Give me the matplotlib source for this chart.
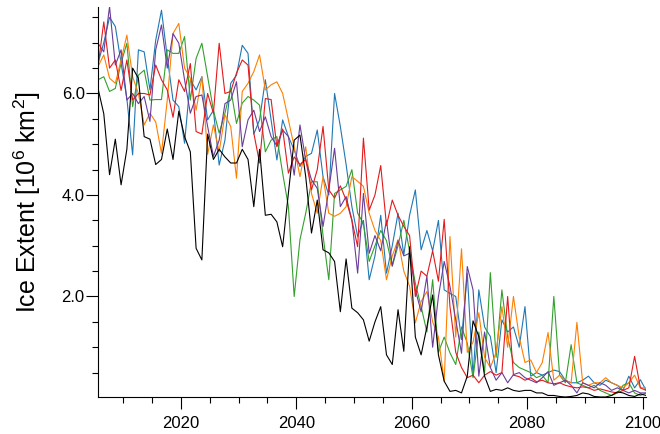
import numpy as np
import matplotlib
matplotlib.use("Agg")
import matplotlib.pyplot as plt
from matplotlib.ticker import MultipleLocator, FormatStrFormatter

plt.rcParams['font.family'] = ['Liberation Sans', 'DejaVu Sans']
plt.rcParams['mathtext.fontset'] = 'custom'
plt.rcParams['mathtext.rm'] = 'Liberation Sans'
plt.rcParams['mathtext.it'] = 'Liberation Sans'

# time axis (annual means, 96 years)
years = np.arange(96) + 2005.625

black = [6.1, 5.6, 4.4, 5.1, 4.2, 4.9, 6.5, 6.3, 5.15, 5.1,
         4.6, 4.7, 5.3, 4.7, 5.65, 5.15, 4.85, 2.95, 2.72, 5.2,
         4.7, 4.9, 4.75, 4.63, 4.63, 4.9, 4.7, 3.77, 4.9, 3.6,
         3.62, 3.47, 2.98, 4.04, 5.08, 5.18, 4.36, 3.25, 3.9, 2.92,
         2.86, 2.69, 1.7, 2.74, 1.77, 1.68, 1.54, 1.12, 1.5, 1.8,
         0.85, 0.66, 1.74, 0.92, 2.98, 1.2, 0.85, 1.4, 2.03, 0.85,
         0.33, 0.13, 0.15, 0.1, 0.43, 1.52, 1.21, 0.43, 0.13, 0.17,
         0.15, 0.2, 0.15, 0.13, 0.15, 0.15, 0.1, 0.1, 0.05, 0.05,
         0.03, 0.02, 0.03, 0.05, 0.1, 0.08, 0.03, 0.02, 0.02, 0.05,
         0.12, 0.1, 0.05, 0.03, 0.08, 0.05]

red = [6.53, 7.41, 6.5, 6.66, 6.06, 6.66, 5.87, 6.0, 6.0, 5.97,
       6.56, 6.27, 6.07, 5.53, 6.27, 6.04, 6.59, 5.25, 5.2, 6.0,
       5.61, 6.99, 6.0, 6.04, 6.4, 6.66, 6.56, 5.22, 4.63, 5.9,
       5.88, 4.95, 5.3, 4.43, 4.75, 4.6, 4.7, 4.1, 4.5, 5.35,
       4.1, 3.94, 4.18, 3.9, 3.5, 2.98, 5.12, 3.7, 4.0, 4.58,
       3.4, 3.9, 3.6, 3.38, 3.2, 2.0, 2.5, 2.4, 2.9, 2.3,
       3.52, 1.8, 0.9, 0.6, 0.4, 0.45, 0.3, 0.45, 0.52, 0.45,
       0.5, 2.0, 0.45, 0.42, 0.35, 0.4, 0.32, 0.35, 0.3, 0.28,
       0.3, 0.25, 0.22, 0.2, 0.22, 0.2, 0.15, 0.18, 0.15, 0.12,
       0.1, 0.15, 0.2, 0.82, 0.2, 0.15]

orange = [6.53, 6.76, 6.3, 6.2, 6.66, 7.15, 6.33, 6.0, 5.38, 5.61,
          5.44, 4.82, 5.87, 7.18, 7.38, 6.5, 6.3, 5.67, 6.33, 4.8,
          5.38, 4.85, 5.58, 5.35, 4.33, 6.04, 6.2, 6.43, 6.76, 6.07,
          6.17, 6.23, 6.0, 5.48, 4.95, 4.36, 4.95, 4.03, 3.64, 4.36,
          3.64, 3.58, 3.64, 3.77, 4.36, 4.27, 4.17, 3.64, 3.3, 3.1,
          2.33, 2.8, 3.12, 2.5, 2.2, 1.48, 1.9, 2.1, 1.5, 1.2,
          0.33, 3.18, 1.2, 2.94, 0.9, 1.1, 1.68, 0.8, 0.6, 0.9,
          1.8, 1.0, 2.0, 1.2, 0.7, 0.75, 0.5, 0.7, 1.29, 0.35,
          0.45, 0.35, 0.3, 1.49, 0.3, 0.25, 0.3, 0.3, 0.4, 0.3,
          0.25, 0.2, 0.3, 0.45, 0.2, 0.2]

green = [6.27, 6.33, 6.04, 6.1, 6.6, 6.99, 5.74, 6.36, 6.46, 5.87,
         5.88, 5.88, 6.86, 6.79, 6.79, 7.12, 5.87, 6.69, 6.99, 6.33,
         5.67, 5.22, 5.61, 6.1, 5.41, 5.81, 5.94, 5.87, 5.77, 4.85,
         5.08, 5.15, 4.43, 3.77, 2.0, 3.12, 3.64, 4.26, 4.26, 3.2,
         2.33, 4.03, 4.1, 4.17, 4.5, 3.64, 3.44, 2.69, 3.0, 3.3,
         3.1, 2.6, 3.0, 3.5, 2.9, 2.26, 1.8, 1.3, 2.33, 0.9,
         1.2, 0.89, 0.66, 1.4, 1.08, 0.4, 1.3, 0.5, 2.47, 0.8,
         2.13, 1.2, 0.7, 0.6, 0.55, 0.5, 0.4, 0.45, 0.3, 2.0,
         0.45, 0.3, 1.05, 0.3, 0.25, 0.2, 0.25, 0.15, 0.1, 0.05,
         0.1, 0.25, 0.3, 0.1, 0.05, 0.1]

blue = [6.6, 7.0, 7.5, 7.32, 6.6, 5.9, 4.79, 6.86, 6.82, 6.07,
        7.05, 7.64, 6.72, 5.87, 5.74, 5.02, 6.27, 6.07, 6.33, 5.48,
        5.67, 4.59, 5.08, 6.2, 6.36, 6.95, 6.79, 5.2, 5.48, 6.27,
        5.48, 4.69, 5.48, 5.15, 4.89, 4.56, 4.76, 4.82, 5.28, 4.36,
        4.0, 6.0, 5.35, 4.6, 3.77, 3.18, 3.5, 2.33, 2.8, 3.6,
        2.46, 3.0, 3.64, 2.82, 3.6, 4.1, 2.92, 3.3, 2.9, 3.5,
        2.13, 2.06, 2.0, 1.15, 2.46, 0.43, 2.13, 1.4, 1.21, 0.5,
        1.54, 1.3, 1.4, 1.0, 1.8, 0.43, 0.5, 0.45, 0.5, 0.55,
        0.52, 0.35, 0.3, 0.3, 0.35, 0.43, 0.3, 0.25, 0.35, 0.3,
        0.25, 0.15, 0.43, 0.2, 0.36, 0.15]

purple = [6.99, 6.82, 7.71, 6.56, 6.86, 5.87, 6.0, 5.8, 5.94, 5.45,
          6.86, 7.35, 6.5, 7.18, 6.99, 6.27, 5.61, 5.94, 5.97, 5.35,
          4.76, 5.08, 5.8, 5.87, 6.23, 4.95, 5.48, 5.67, 5.25, 5.54,
          5.15, 4.97, 5.28, 5.15, 4.39, 5.38, 4.69, 4.3, 4.13, 3.38,
          4.1, 4.92, 3.77, 3.97, 3.51, 2.46, 4.03, 2.85, 3.2, 2.9,
          3.5, 2.6, 3.1, 2.8, 2.85, 2.13, 1.7, 2.4, 1.0, 2.0,
          2.69, 2.2, 1.54, 0.88, 2.59, 2.13, 0.43, 1.3, 0.6, 0.35,
          0.5, 0.3, 0.46, 0.5, 0.4, 0.35, 0.3, 0.4, 0.52, 0.25,
          0.3, 0.35, 0.25, 0.1, 0.3, 0.25, 0.2, 0.3, 0.25, 0.15,
          0.2, 0.15, 0.1, 0.15, 0.1, 0.1]

series = [(blue, '#1f78b4'), (green, '#33a02c'), (orange, '#ff7f00'),
          (purple, '#6a3d9a'), (red, '#e31a1c'), (black, 'black')]

fig = plt.figure(figsize=(6.6, 4.34), dpi=100)
ax = fig.add_axes([0.1485, 0.0853, 0.8305, 0.8993])

for vals, col in series:
    ax.plot(years, vals, color=col, lw=0.8)

allv = np.concatenate([np.array(v) for v, c in series])
ax.set_xlim(years[0], years[-1])
ax.set_ylim(allv.min(), allv.max())

ax.spines['top'].set_visible(False)
ax.spines['right'].set_visible(False)
for s in ['left', 'bottom']:
    ax.spines[s].set_linewidth(0.8)

ax.xaxis.set_major_locator(MultipleLocator(20))
ax.xaxis.set_minor_locator(MultipleLocator(5))
ax.yaxis.set_major_locator(MultipleLocator(2))
ax.yaxis.set_minor_locator(MultipleLocator(0.5))
ax.yaxis.set_major_formatter(FormatStrFormatter('%.1f'))
ax.tick_params(which='major', direction='out', length=8.6, width=0.8, labelsize=12)
ax.tick_params(which='minor', direction='out', length=4.3, width=0.8)
ax.tick_params(axis='x', which='major', pad=5)
ax.tick_params(axis='y', which='major', pad=1)

ax.set_ylabel('Ice Extent [10$^6$ km$^2$]', fontsize=18, labelpad=13)

fig.savefig('out.png', dpi=100)
